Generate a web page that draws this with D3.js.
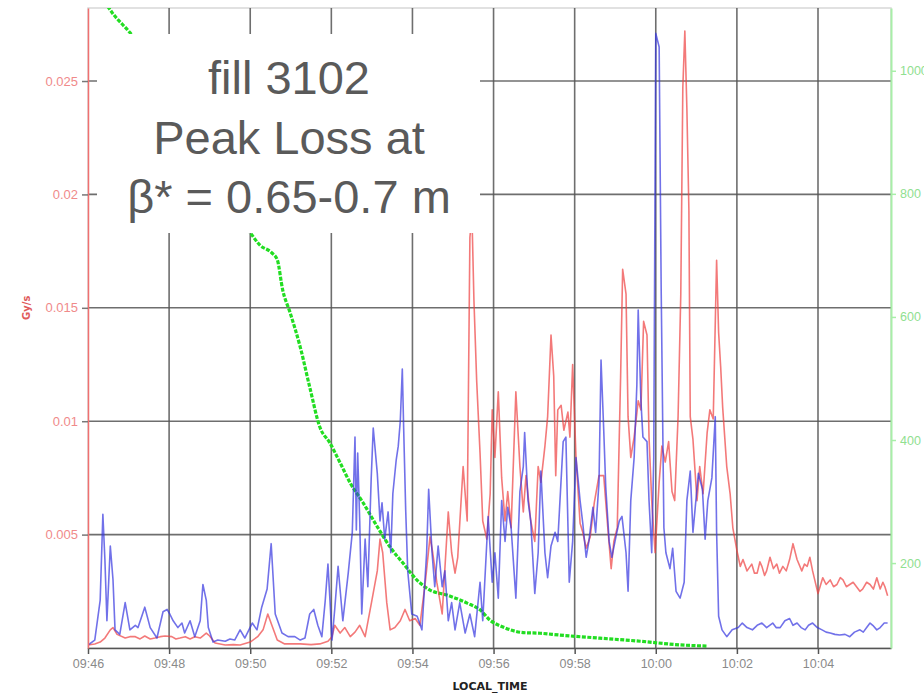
<!DOCTYPE html>
<html>
<head>
<meta charset="utf-8">
<script src="https://cdn.jsdelivr.net/npm/d3@7"></script>
<style>
    body { margin: 0; background: #fff; }
    svg { display: block; }
</style>
</head>
<body>
<svg id="svgHolder"></svg>
<script>
// seconds after 09:46:00, value in Gy/s
let blueData = [
    [0,0.00013],[10,0.00035],[18,0.0021],[22,0.0059],[25,0.0039],[28,0.0012],[33,0.0045],[37,0.003],
    [40,0.0008],[47,0.0006],[55,0.002],[62,0.0008],[70,0.001],[74,0.0009],[84,0.0018],[92,0.0009],
    [102,0.00044],[111,0.0016],[117,0.0017],[121,0.0015],[126,0.0012],[133,0.0009],[139,0.0011],
    [143,0.00066],[151,0.0012],[158,0.0005],[166,0.0012],[170,0.0028],[175,0.0021],[178,0.0009],
    [185,0.00026],[192,0.00035],[203,0.0003],[210,0.0004],[217,0.00035],[225,0.0008],[232,0.00044],
    [243,0.0011],[250,0.0008],[257,0.0018],[265,0.0026],[271,0.0046],[277,0.0015],[287,0.00066],
    [296,0.0005],[306,0.0005],[314,0.00035],[321,0.00044],[328,0.0015],[334,0.0017],[340,0.001],
    [346,0.0005],[351,0.0021],[355,0.0037],[358,0.0021],[361,0.00035],[365,0.0017],[370,0.0036],
    [377,0.0012],[385,0.0033],[391,0.0051],[395,0.0093],[397,0.0052],[399,0.0086],[402,0.0056],
    [405,0.0015],[410,0.0048],[414,0.0027],[419,0.0075],[422,0.0097],[428,0.0077],[432,0.0056],
    [435,0.0064],[439,0.0048],[444,0.006],[448,0.0042],[451,0.0068],[456,0.0083],[459,0.0089],
    [462,0.01],[465,0.0123],[467,0.0097],[470,0.0061],[473,0.0034],[479,0.0015],[487,0.0014],
    [494,0.0008],[501,0.0042],[504,0.007],[509,0.0042],[513,0.0027],[518,0.0045],[524,0.0027],
    [528,0.0034],[533,0.0012],[538,0.002],[543,0.0008],[550,0.002],[558,0.00066],[565,0.0015],
    [572,0.0005],[580,0.0029],[584,0.0012],[592,0.0058],[598,0.0029],[602,0.0042],[607,0.0022],
    [612,0.0065],[617,0.0047],[621,0.0062],[626,0.0053],[633,0.0022],[639,0.0069],[644,0.008],
    [646,0.0095],[651,0.0065],[655,0.0056],[661,0.0024],[666,0.0042],[670,0.0078],[676,0.0042],
    [680,0.0031],[685,0.0045],[691,0.0051],[695,0.0047],[703,0.0091],[707,0.0093],[712,0.0029],
    [717,0.0047],[722,0.0084],[728,0.0065],[732,0.0055],[737,0.004],[741,0.0047],[747,0.0062],
    [751,0.0051],[756,0.0073],[759,0.0127],[763,0.0096],[766,0.0071],[771,0.0047],[775,0.004],
    [781,0.0049],[786,0.0056],[790,0.0058],[796,0.0042],[799,0.0025],[803,0.0065],[808,0.0084],
    [812,0.0116],[814,0.0149],[818,0.0109],[821,0.0093],[827,0.0091],[830,0.0065],[834,0.0042],
    [837,0.0084],[840,0.0271],[845,0.0265],[848,0.0158],[852,0.0053],[855,0.0042],[861,0.0035],
    [865,0.0044],[870,0.0025],[876,0.0022],[882,0.0029],[886,0.0065],[891,0.0078],[895,0.0051],
    [903,0.0077],[909,0.007],[913,0.0048],[917,0.0065],[923,0.0075],[928,0.0102],[930,0.0051],
    [933,0.0014],[938,0.0008],[945,0.0005],[953,0.0008],[962,0.0009],[968,0.0011],[975,0.0009],
    [983,0.0008],[990,0.001],[997,0.0011],[1004,0.0009],[1013,0.0011],[1018,0.0009],[1024,0.0009],
    [1031,0.0012],[1038,0.0013],[1043,0.001],[1049,0.0011],[1055,0.0009],[1061,0.0008],[1066,0.001],
    [1072,0.0011],[1079,0.0009],[1086,0.0008],[1092,0.0007],[1098,0.00066],[1105,0.0006],
    [1112,0.00057],[1120,0.0006],[1127,0.0005],[1134,0.0007],[1142,0.0008],[1147,0.0007],
    [1152,0.0009],[1157,0.0011],[1161,0.001],[1167,0.0008],[1172,0.0009],[1178,0.0011],[1183,0.0011]
];

let redData = [
    [0,0.00013],[10,0.00018],[18,0.00026],[25,0.00044],[33,0.0008],[37,0.0009],[43,0.0006],
    [55,0.00044],[62,0.0005],[70,0.0005],[77,0.0004],[84,0.00053],[92,0.0004],[99,0.00044],
    [107,0.0005],[114,0.00053],[124,0.0005],[130,0.0004],[136,0.00044],[144,0.0005],[151,0.0004],
    [158,0.0005],[166,0.00044],[175,0.00066],[180,0.00053],[188,0.00022],[203,0.00013],[215,0.00015],
    [225,0.00013],[240,0.00026],[251,0.0005],[259,0.0008],[266,0.0015],[272,0.001],[280,0.00035],
    [291,0.00018],[314,0.00018],[330,0.00015],[343,0.00018],[355,0.0003],[361,0.0005],[365,0.001],
    [373,0.00066],[380,0.0009],[388,0.0005],[395,0.0007],[402,0.001],[410,0.0005],[420,0.0021],
    [428,0.0034],[432,0.0048],[436,0.0042],[442,0.002],[447,0.0008],[454,0.0009],[462,0.0012],
    [469,0.0017],[476,0.0012],[484,0.0013],[491,0.001],[499,0.0029],[506,0.0049],[510,0.0042],
    [516,0.0029],[524,0.0015],[533,0.006],[538,0.0042],[543,0.0033],[547,0.004],[555,0.008],
    [561,0.0056],[565,0.0181],[568,0.0191],[571,0.0153],[575,0.0118],[580,0.0086],[584,0.0056],
    [590,0.0048],[595,0.0068],[598,0.0105],[602,0.0084],[607,0.0113],[612,0.0075],[617,0.0056],
    [621,0.0069],[626,0.0053],[633,0.0113],[639,0.008],[644,0.006],[648,0.0076],[655,0.0056],
    [661,0.0047],[666,0.008],[670,0.0073],[676,0.0089],[680,0.0102],[685,0.0138],[689,0.012],
    [692,0.0076],[695,0.0105],[700,0.0107],[704,0.0096],[710,0.0104],[713,0.0093],[717,0.0125],
    [722,0.0084],[728,0.0055],[732,0.0051],[737,0.0044],[743,0.0049],[749,0.0064],[756,0.0076],
    [763,0.0076],[769,0.0053],[774,0.0035],[778,0.0047],[783,0.0053],[788,0.012],[791,0.0167],
    [796,0.0156],[799,0.0102],[803,0.0084],[808,0.0093],[814,0.0109],[818,0.0105],[822,0.0144],
    [827,0.0138],[830,0.0093],[834,0.0065],[839,0.0042],[845,0.0073],[849,0.0089],[854,0.0082],
    [859,0.0091],[864,0.0069],[868,0.0065],[873,0.0102],[877,0.0156],[880,0.0247],[883,0.0272],
    [886,0.0238],[889,0.0193],[891,0.0102],[895,0.0092],[901,0.0065],[905,0.008],[910,0.0068],
    [916,0.0095],[920,0.0105],[925,0.0101],[930,0.0171],[933,0.0139],[936,0.0124],[939,0.0106],
    [945,0.008],[950,0.0068],[954,0.0053],[960,0.0043],[965,0.0036],[969,0.0039],[975,0.0034],
    [982,0.0037],[986,0.0033],[990,0.0033],[994,0.0038],[997,0.0036],[1001,0.0032],[1004,0.0034],
    [1009,0.004],[1014,0.0035],[1019,0.0037],[1023,0.0033],[1028,0.0036],[1033,0.0034],[1038,0.0039],
    [1043,0.0046],[1049,0.0039],[1056,0.0034],[1060,0.0037],[1064,0.0036],[1068,0.004],[1072,0.0034],
    [1080,0.0024],[1087,0.0031],[1092,0.0028],[1098,0.003],[1103,0.0027],[1108,0.0028],[1113,0.0031],
    [1117,0.003],[1122,0.0027],[1127,0.0028],[1132,0.0029],[1137,0.0027],[1142,0.0025],[1146,0.0026],
    [1152,0.0029],[1157,0.0028],[1162,0.0026],[1167,0.0031],[1172,0.0026],[1176,0.0029],[1179,0.0027],
    [1183,0.0023]
];

// right axis (green) series
let greenData = [
    [20,1120],[36,1094],[62,1062],[151,904],[240,737],[254,717],[272,704],[280,693],[288,644],
    [299,607],[314,551],[328,486],[343,421],[358,395],[373,363],[388,330],[407,298],[428,259],
    [447,226],[466,200],[487,172],[506,156],[531,148],[561,135],[580,124],[595,107],[614,96],
    [644,87],[669,86],[698,83],[757,78],[817,73],[876,67],[917,65]
];

let leftTicks = [0.005, 0.01, 0.015, 0.02, 0.025];
let leftTickLabels = ['0.005', '0.01', '0.015', '0.02', '0.025'];
let rightTicks = [200, 400, 600, 800, 1000];
let timeTickLabels = ['09:46', '09:48', '09:50', '09:52', '09:54', '09:56', '09:58', '10:00', '10:02', '10:04'];
let noteLines = ['fill 3102', 'Peak Loss at', 'β* = 0.65-0.7 m'];

let width = 924;
let height = 693;
let plotLeft = 88;
let plotRight = 891;
let plotTop = 8;
let plotBottom = 648;

let t0 = new Date(2012, 8, 20, 9, 46, 0);
let toDate = (s) => new Date(t0.getTime() + s * 1000);

let xScale;
let yScale;
let gScale;
let svg;

function drawSvgHolder() {
    svg = d3.select('#svgHolder')
        .attr('width', width)
        .attr('height', height)
        .style('font-family', "'DejaVu Sans', sans-serif");

    svg.append('defs')
        .append('clipPath')
        .attr('id', 'plotClip')
        .append('rect')
        .attr('x', plotLeft)
        .attr('y', plotTop)
        .attr('width', plotRight - plotLeft)
        .attr('height', plotBottom - plotTop);
}

function generateScales() {
    xScale = d3.scaleTime()
        .domain([t0, toDate(1188)])
        .range([plotLeft, plotRight]);

    yScale = d3.scaleLinear()
        .domain([0, 0.02822])
        .range([plotBottom, plotTop]);

    gScale = d3.scaleLinear()
        .domain([62, 1102])
        .range([plotBottom, plotTop]);
}

function drawGrid() {
    let timeTicks = timeTickLabels.map((d, i) => toDate(i * 120));

    svg.append('rect')
        .attr('x', plotLeft)
        .attr('y', plotTop)
        .attr('width', plotRight - plotLeft)
        .attr('height', plotBottom - plotTop)
        .attr('fill', '#fff')
        .attr('stroke', '#d8d8d8')
        .attr('stroke-width', 1.5);

    svg.append('g')
        .selectAll('line')
        .data(timeTicks.slice(1))
        .enter()
        .append('line')
        .attr('x1', (d) => xScale(d))
        .attr('x2', (d) => xScale(d))
        .attr('y1', plotTop)
        .attr('y2', plotBottom)
        .attr('stroke', '#555')
        .attr('stroke-opacity', 0.85)
        .attr('stroke-width', 1.6);

    svg.append('g')
        .selectAll('line')
        .data(leftTicks)
        .enter()
        .append('line')
        .attr('x1', plotLeft)
        .attr('x2', plotRight)
        .attr('y1', (d) => yScale(d))
        .attr('y2', (d) => yScale(d))
        .attr('stroke', '#555')
        .attr('stroke-opacity', 0.85)
        .attr('stroke-width', 1.6);
}

function drawAxis() {
    let timeTicks = timeTickLabels.map((d, i) => toDate(i * 120));

    let xAxis = d3.axisBottom(xScale)
        .tickValues(timeTicks)
        .tickFormat((d, i) => timeTickLabels[i])
        .tickSize(6)
        .tickSizeOuter(0);

    let gx = svg.append('g')
        .attr('id', 'x-axis')
        .attr('transform', 'translate(0,' + plotBottom + ')')
        .call(xAxis);
    gx.select('.domain').attr('stroke', '#555').attr('stroke-width', 1.6);
    gx.selectAll('.tick line').attr('stroke', '#555').attr('stroke-width', 1.5);
    gx.selectAll('.tick text')
        .attr('y', 11)
        .attr('fill', '#8a8a8a')
        .style('font-size', '12.5px');

    let yAxis = d3.axisLeft(yScale)
        .tickValues(leftTicks)
        .tickFormat((d, i) => leftTickLabels[i])
        .tickSize(6)
        .tickSizeOuter(0);

    let gy = svg.append('g')
        .attr('id', 'y-axis')
        .attr('transform', 'translate(' + plotLeft + ',0)')
        .call(yAxis);
    gy.select('.domain').attr('stroke', '#f07070').attr('stroke-width', 1.5);
    gy.selectAll('.tick line').attr('stroke', '#777').attr('stroke-width', 1.5);
    gy.selectAll('.tick text')
        .attr('x', -10)
        .attr('fill', '#f08a8a')
        .style('font-size', '13px');

    let gAxis = d3.axisRight(gScale)
        .tickValues(rightTicks)
        .tickFormat(d3.format('d'))
        .tickSize(5)
        .tickSizeOuter(0);

    let gg = svg.append('g')
        .attr('id', 'g-axis')
        .attr('transform', 'translate(' + plotRight + ',0)')
        .call(gAxis);
    gg.select('.domain').attr('stroke', '#a8eea8').attr('stroke-width', 2);
    gg.selectAll('.tick line').attr('stroke', '#a8eea8').attr('stroke-width', 1.5);
    gg.selectAll('.tick text')
        .attr('x', 9)
        .attr('fill', '#90e090')
        .style('font-size', '12.5px');

    svg.append('text')
        .attr('transform', 'translate(30,' + yScale(0.015) + ') rotate(-90)')
        .attr('text-anchor', 'middle')
        .attr('fill', '#e05a5a')
        .style('font-size', '10px')
        .style('font-weight', 'bold')
        .text('Gy/s');

    svg.append('text')
        .attr('x', 490)
        .attr('y', 690)
        .attr('text-anchor', 'middle')
        .attr('fill', '#222')
        .style('font-size', '11px')
        .style('font-weight', 'bold')
        .text('LOCAL_TIME');
}

function drawLines() {
    let plot = svg.append('g').attr('clip-path', 'url(#plotClip)');

    let lossLine = d3.line()
        .x((d) => xScale(toDate(d[0])))
        .y((d) => yScale(d[1]));

    let greenLine = d3.line()
        .x((d) => xScale(toDate(d[0])))
        .y((d) => gScale(d[1]))
        .curve(d3.curveMonotoneX);

    plot.append('path')
        .datum(greenData)
        .attr('fill', 'none')
        .attr('stroke', '#22dd22')
        .attr('stroke-width', 3.2)
        .attr('stroke-dasharray', '4,1.5')
        .attr('d', greenLine);

    plot.append('path')
        .datum(redData)
        .attr('fill', 'none')
        .attr('stroke', '#ee4040')
        .attr('stroke-opacity', 0.7)
        .attr('stroke-width', 1.6)
        .attr('stroke-linejoin', 'round')
        .attr('d', lossLine);

    plot.append('path')
        .datum(blueData)
        .attr('fill', 'none')
        .attr('stroke', '#3535e0')
        .attr('stroke-opacity', 0.7)
        .attr('stroke-width', 1.6)
        .attr('stroke-linejoin', 'round')
        .attr('d', lossLine);
}

function drawNote() {
    svg.append('rect')
        .attr('x', 97)
        .attr('y', 34)
        .attr('width', 383)
        .attr('height', 199)
        .attr('fill', '#fff');

    svg.append('g')
        .selectAll('text')
        .data(noteLines)
        .enter()
        .append('text')
        .attr('x', 289)
        .attr('y', (d, i) => 94 + i * 59.5)
        .attr('text-anchor', 'middle')
        .attr('fill', '#5a5a5a')
        .style('font-family', "'Liberation Sans', Arial, sans-serif")
        .style('font-size', '47px')
        .text((d) => d);
}

drawSvgHolder();
generateScales();
drawGrid();
drawLines();
drawAxis();
drawNote();
</script>
</body>
</html>
